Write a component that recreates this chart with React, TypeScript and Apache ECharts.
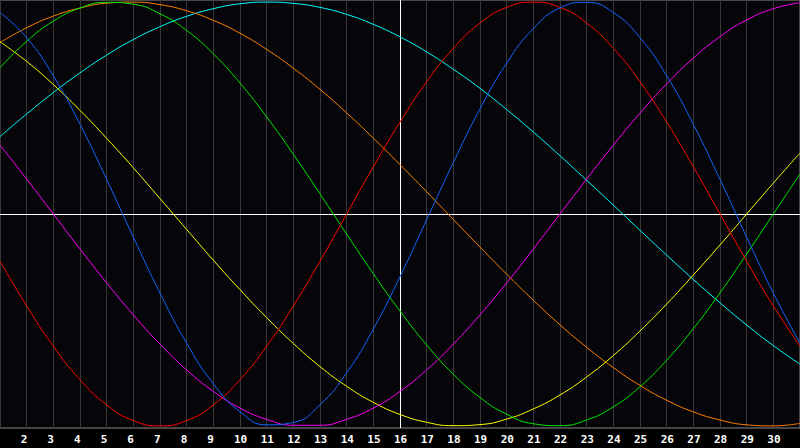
import { useEffect, useRef } from "react";
import * as echarts from "echarts";

// days of the month on the x axis (1 and 31 are the plot edges)
const days = [
  1, 2, 3, 4, 5, 6, 7, 8, 9, 10, 11, 12, 13, 14, 15, 16, 17, 18, 19, 20, 21, 22, 23, 24, 25, 26,
  27, 28, 29, 30, 31,
];
// days that get a label under the plot
const labelDays = days.filter((d) => d > 1 && d < 31);

// values, -1..1
const physical = [
  0.951, 0.832, 0.652, 0.423, 0.163, -0.109, -0.373, -0.61, -0.801, -0.933, -0.995, -0.984, -0.9,
  -0.749, -0.543, -0.296, -0.027, 0.243, 0.496, 0.712, 0.875, 0.973, 0.999, 0.951, 0.832, 0.652,
  0.423, 0.163, -0.109, -0.373, -0.61,
];
const emotional = [
  -0.223, -0.434, -0.624, -0.782, -0.901, -0.975, -1, -0.975, -0.901, -0.782, -0.624, -0.434,
  -0.223, 0, 0.223, 0.434, 0.624, 0.782, 0.901, 0.975, 1, 0.975, 0.901, 0.782, 0.624, 0.434, 0.223,
  0, -0.223, -0.434, -0.624,
];
const intellectual = [
  0.69, 0.815, 0.91, 0.972, 0.999, 0.99, 0.945, 0.866, 0.756, 0.618, 0.458, 0.282, 0.095, -0.095,
  -0.282, -0.458, -0.618, -0.756, -0.866, -0.945, -0.99, -0.999, -0.972, -0.91, -0.815, -0.69,
  -0.541, -0.372, -0.189, 0, 0.189,
];
const intuitive = [
  0.325, 0.165, 0, -0.165, -0.325, -0.476, -0.614, -0.736, -0.837, -0.916, -0.969, -0.997, -0.997,
  -0.969, -0.916, -0.837, -0.736, -0.614, -0.476, -0.325, -0.165, 0, 0.165, 0.325, 0.476, 0.614,
  0.736, 0.837, 0.916, 0.969, 0.997,
];
const aesthetic = [
  0.813, 0.72, 0.611, 0.489, 0.357, 0.218, 0.073, -0.073, -0.218, -0.357, -0.489, -0.611, -0.72,
  -0.813, -0.889, -0.946, -0.983, -0.999, -0.994, -0.968, -0.92, -0.854, -0.769, -0.668, -0.552,
  -0.425, -0.288, -0.146, 0, 0.146, 0.288,
];
const awareness = [
  0.809, 0.879, 0.934, 0.972, 0.995, 1, 0.988, 0.959, 0.914, 0.853, 0.777, 0.688, 0.588, 0.477,
  0.358, 0.233, 0.105, -0.026, -0.156, -0.284, -0.407, -0.523, -0.629, -0.725, -0.809, -0.879,
  -0.934, -0.972, -0.995, -1, -0.988,
];
const spiritual = [
  0.365, 0.472, 0.573, 0.666, 0.75, 0.823, 0.884, 0.933, 0.969, 0.992, 1, 0.994, 0.975, 0.942,
  0.895, 0.836, 0.765, 0.683, 0.593, 0.493, 0.387, 0.275, 0.159, 0.042, -0.077, -0.194, -0.309,
  -0.419, -0.524, -0.621, -0.709,
];

const seriesDefs = [
  { name: "Spiritual", color: "#00ffff", values: spiritual },
  { name: "Awareness", color: "#ff8000", values: awareness },
  { name: "Aesthetic", color: "#ffff00", values: aesthetic },
  { name: "Intuitive", color: "#ff00ff", values: intuitive },
  { name: "Intellectual", color: "#00e600", values: intellectual },
  { name: "Emotional", color: "#ff0000", values: emotional },
  { name: "Physical", color: "#1466ff", values: physical },
];

const TODAY = 16;
// the day labels start a few px left of their grid line; 0.225 day ≈ 6px here
const LABEL_SHIFT = 0.225;

function buildOption(): echarts.EChartsOption {
  return {
    animation: false,
    backgroundColor: "#000000",
    grid: {
      left: 0,
      right: 0,
      top: 0,
      bottom: 20,
      show: true,
      backgroundColor: "#060509",
      borderColor: "#8a8a8a",
      borderWidth: 1,
    },
    xAxis: [
      {
        type: "value",
        min: 1,
        max: 31,
        interval: 1,
        position: "bottom",
        axisLine: { show: false },
        axisTick: { show: false },
        axisLabel: { show: false },
        splitLine: { show: true, lineStyle: { color: "#383838", width: 1 } },
      },
      {
        // label-only axis, shifted so each day label starts just left of its line
        type: "value",
        min: 1 + LABEL_SHIFT,
        max: 31 + LABEL_SHIFT,
        position: "bottom",
        axisLine: { show: false },
        axisTick: { show: false },
        splitLine: { show: false },
        axisLabel: {
          customValues: labelDays,
          color: "#ffffff",
          fontFamily: "DejaVu Sans Mono",
          fontWeight: "bold",
          fontSize: 11,
          margin: 6,
          align: "left",
          formatter: (v: number) => String(v),
        },
      },
    ],
    yAxis: { type: "value", min: -1.01, max: 1.01, show: false, splitLine: { show: false } },
    series: seriesDefs.map((s, i) => ({
      type: "line" as const,
      name: s.name,
      xAxisIndex: 0,
      smooth: true,
      showSymbol: false,
      symbol: "none",
      silent: true,
      lineStyle: { color: s.color, width: 1 },
      itemStyle: { color: s.color },
      data: days.map((d, j) => [d, s.values[j]]),
      z: 3 + i,
      markLine:
        i === 0
          ? {
              silent: true,
              symbol: "none",
              label: { show: false },
              lineStyle: { color: "#ffffff", width: 1, type: "solid" },
              z: 2,
              data: [{ yAxis: 0 }, { xAxis: TODAY }],
            }
          : undefined,
    })),
  };
}

export default function App() {
  const ref = useRef<HTMLDivElement | null>(null);

  useEffect(() => {
    const el = ref.current;
    if (!el) return;
    const chart = echarts.init(el, undefined, { renderer: "svg" });
    chart.setOption(buildOption());
    return () => {
      chart.dispose();
    };
  }, []);

  return (
    <div
      ref={ref}
      style={{ position: "fixed", left: 0, top: 0, width: 800, height: 448, background: "#000" }}
    />
  );
}
